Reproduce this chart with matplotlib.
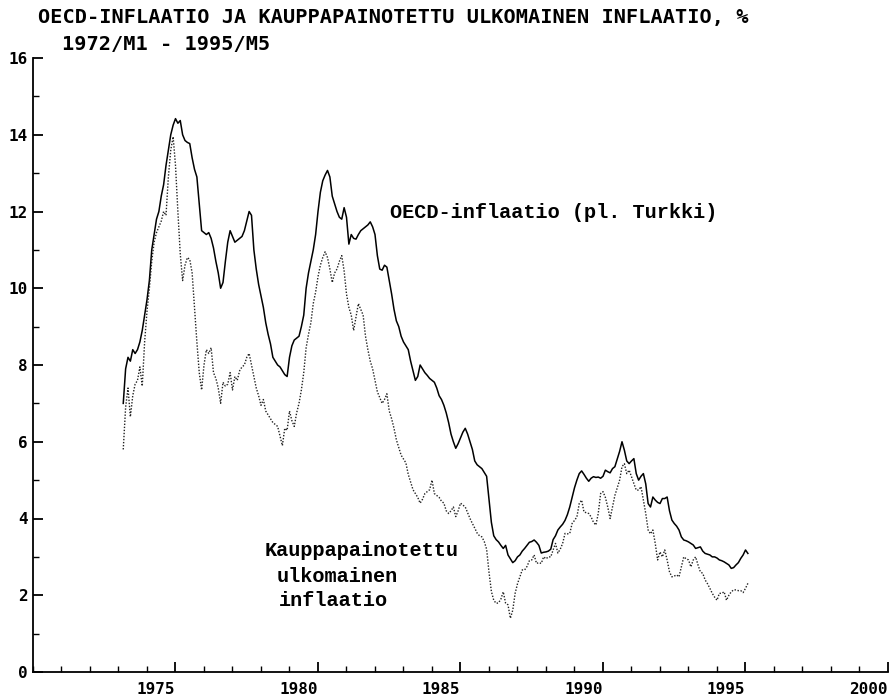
# OECD-inflaatio ja kauppapainotettu ulkomainen inflaatio
import numpy as np
import matplotlib
matplotlib.use('Agg')
import matplotlib.pyplot as plt
from matplotlib.ticker import MultipleLocator

# kuukausisarjat, alkaen 1973/M3
START_YEAR = 1973
START_MONTH = 3

oecd = [
    7.0, 7.9, 8.2, 8.1, 8.4, 8.3, 8.4, 8.6, 8.9, 9.3,                     # 1973
    9.7, 10.2, 11.0, 11.4, 11.8, 12.0, 12.4, 12.7, 13.2, 13.6, 14.0, 14.25,  # 1974
    14.42, 14.3, 14.37, 14.0, 13.85, 13.8, 13.77, 13.4, 13.1, 12.9, 12.2, 11.5,  # 1975
    11.45, 11.4, 11.45, 11.3, 11.05, 10.7, 10.4, 10.0, 10.15, 10.7, 11.2, 11.5,  # 1976
    11.35, 11.2, 11.25, 11.3, 11.35, 11.5, 11.75, 12.0, 11.9, 11.0, 10.5, 10.1,  # 1977
    9.8, 9.5, 9.1, 8.8, 8.55, 8.2, 8.1, 8.0, 7.95, 7.85, 7.75, 7.7,         # 1978
    8.2, 8.5, 8.65, 8.7, 8.75, 9.0, 9.3, 10.0, 10.4, 10.7, 11.0, 11.4,      # 1979
    12.0, 12.5, 12.8, 12.95, 13.07, 12.9, 12.4, 12.2, 12.0, 11.85, 11.8, 12.1,  # 1980
    11.85, 11.15, 11.4, 11.3, 11.28, 11.4, 11.5, 11.55, 11.6, 11.65, 11.73, 11.6,  # 1981
    11.4, 10.85, 10.5, 10.47, 10.6, 10.55, 10.2, 9.85, 9.45, 9.15, 9.0, 8.75,  # 1982
    8.6, 8.5, 8.4, 8.1, 7.85, 7.6, 7.7, 8.0, 7.9, 7.8, 7.73, 7.65,          # 1983
    7.6, 7.55, 7.4, 7.2, 7.1, 6.95, 6.75, 6.5, 6.2, 6.0, 5.83, 5.95,        # 1984
    6.1, 6.25, 6.35, 6.2, 6.0, 5.8, 5.5, 5.4, 5.35, 5.3, 5.2, 5.1,          # 1985
    4.5, 3.9, 3.55, 3.45, 3.39, 3.3, 3.22, 3.3, 3.05, 2.95, 2.85, 2.9,      # 1986
    3.0, 3.05, 3.15, 3.22, 3.3, 3.38, 3.4, 3.44, 3.38, 3.3, 3.1, 3.12,      # 1987
    3.13, 3.15, 3.2, 3.45, 3.55, 3.7, 3.78, 3.85, 3.95, 4.1, 4.3, 4.55,     # 1988
    4.8, 5.0, 5.17, 5.24, 5.15, 5.05, 4.97, 5.05, 5.09, 5.07, 5.08, 5.05,   # 1989
    5.1, 5.26, 5.22, 5.19, 5.3, 5.35, 5.55, 5.75, 6.0, 5.78, 5.5, 5.43,     # 1990
    5.5, 5.56, 5.17, 5.0, 5.1, 5.17, 4.9, 4.39, 4.3, 4.56, 4.48, 4.42,      # 1991
    4.39, 4.52, 4.52, 4.56, 4.2, 3.96, 3.87, 3.8, 3.7, 3.52, 3.44, 3.42,    # 1992
    3.39, 3.35, 3.31, 3.22, 3.24, 3.26, 3.15, 3.09, 3.07, 3.05, 3.0, 3.0,   # 1993
    2.97, 2.92, 2.9, 2.87, 2.83, 2.79, 2.7, 2.72, 2.79, 2.85, 2.96, 3.05,   # 1994
    3.18, 3.09,                                                             # 1995
]

ulkom = [
    5.8, 6.9, 7.4, 6.65, 7.2, 7.5, 7.6, 7.95, 7.45, 8.6,                   # 1973
    9.4, 10.0, 10.7, 11.2, 11.45, 11.6, 11.75, 12.0, 11.9, 12.9, 13.6, 13.95,  # 1974
    13.2, 12.0, 10.9, 10.2, 10.6, 10.8, 10.75, 10.4, 9.5, 8.6, 7.8, 7.35,   # 1975
    8.0, 8.4, 8.3, 8.45, 7.8, 7.65, 7.4, 7.0, 7.55, 7.45, 7.5, 7.8,         # 1976
    7.35, 7.7, 7.6, 7.85, 7.95, 8.0, 8.2, 8.3, 8.0, 7.7, 7.4, 7.2,          # 1977
    6.95, 7.1, 6.8, 6.7, 6.6, 6.5, 6.45, 6.4, 6.15, 5.9, 6.35, 6.3,         # 1978
    6.8, 6.55, 6.4, 6.75, 7.0, 7.35, 7.8, 8.45, 8.8, 9.1, 9.6, 9.9,         # 1979
    10.3, 10.6, 10.8, 10.95, 10.8, 10.5, 10.15, 10.4, 10.5, 10.7, 10.85, 10.45,  # 1980
    9.85, 9.5, 9.3, 8.9, 9.25, 9.6, 9.45, 9.3, 8.75, 8.4, 8.1, 7.9,         # 1981
    7.6, 7.3, 7.15, 7.0, 7.1, 7.25, 6.8, 6.6, 6.35, 6.05, 5.85, 5.65,       # 1982
    5.55, 5.45, 5.15, 4.95, 4.75, 4.65, 4.55, 4.4, 4.5, 4.65, 4.7, 4.75,    # 1983
    5.0, 4.65, 4.6, 4.55, 4.45, 4.4, 4.2, 4.13, 4.2, 4.3, 4.05, 4.2,        # 1984
    4.4, 4.35, 4.3, 4.15, 4.0, 3.87, 3.75, 3.62, 3.55, 3.52, 3.4, 3.2,      # 1985
    2.6, 2.1, 1.87, 1.79, 1.8, 1.9, 2.09, 1.79, 1.75, 1.4, 1.61, 2.05,      # 1986
    2.3, 2.48, 2.66, 2.66, 2.75, 2.9, 2.92, 3.05, 2.83, 2.85, 2.83, 3.0,    # 1987
    2.95, 3.0, 3.0, 3.18, 3.35, 3.1, 3.2, 3.35, 3.61, 3.6, 3.61, 3.87,      # 1988
    3.95, 4.04, 4.39, 4.48, 4.17, 4.15, 4.13, 4.04, 3.9, 3.83, 4.13, 4.65,  # 1989
    4.7, 4.55, 4.3, 4.0, 4.3, 4.6, 4.8, 5.0, 5.35, 5.43, 5.17, 5.26,        # 1990
    5.09, 4.91, 4.74, 4.74, 4.83, 4.48, 4.13, 3.7, 3.6, 3.7, 3.35, 2.92,    # 1991
    3.13, 3.0, 3.18, 2.92, 2.61, 2.48, 2.5, 2.53, 2.48, 2.74, 3.0, 2.95,    # 1992
    2.92, 2.74, 2.92, 3.0, 2.79, 2.61, 2.57, 2.4, 2.3, 2.18, 2.05, 1.95,    # 1993
    1.87, 2.05, 2.05, 2.09, 1.87, 2.0, 2.09, 2.14, 2.14, 2.12, 2.12, 2.07,  # 1994
    2.18, 2.31,                                                             # 1995
]

TITLE = 'OECD-INFLAATIO JA KAUPPAPAINOTETTU ULKOMAINEN INFLAATIO, %'
SUBTITLE = '1972/M1 - 1995/M5'
X_TICKS = [1975, 1980, 1985, 1990, 1995, 2000]
Y_TICKS = [0, 2, 4, 6, 8, 10, 12, 14, 16]

# aika-akseli (vuosi + kuukausi)
t = START_YEAR + (START_MONTH - 1 + np.arange(len(oecd))) / 12

fig = plt.figure(figsize=(8.94, 6.98), dpi=100)
ax = fig.add_axes([33 / 894, 26 / 698, 855 / 894, 614 / 698])

ax.plot(t, oecd, color='black', lw=1.1)
ax.plot(t, ulkom, color='#222222', lw=1.0, linestyle=(0, (1, 1.2)))

ax.set_xlim(1970, 2000)
ax.set_ylim(0, 16)
ax.xaxis.set_minor_locator(MultipleLocator(1))
ax.yaxis.set_minor_locator(MultipleLocator(1))

for s in ['top', 'right']:
    ax.spines[s].set_visible(False)
for s in ['left', 'bottom']:
    ax.spines[s].set_linewidth(1.3)

ax.tick_params(which='major', direction='in', length=7, width=1.3)
ax.tick_params(which='minor', direction='in', length=4, width=1.0)
ax.tick_params(axis='x', pad=7)
ax.tick_params(axis='y', pad=4)

tick_font = {'family': 'DejaVu Sans Mono', 'weight': 'bold', 'size': 11.5}
ax.set_xticks(X_TICKS)
ax.set_xticklabels([str(v) for v in X_TICKS], fontdict=tick_font, ha='right')
ax.set_yticks(Y_TICKS)
ax.set_yticklabels([str(v) for v in Y_TICKS], fontdict=tick_font)

# otsikot
fig.text(38 / 894, 1 - 18 / 698, TITLE, family='DejaVu Sans Mono', weight='bold',
         fontsize=14.6, va='center', ha='left')
fig.text(62 / 894, 1 - 45 / 698, SUBTITLE, family='DejaVu Sans Mono', weight='bold',
         fontsize=14.6, va='center', ha='left')

# sarjojen nimet
lab_font = dict(family='Liberation Mono', weight='bold', fontsize=14.6, va='center', ha='left')
fig.text(390 / 894, 1 - 213 / 698, 'OECD-inflaatio (pl. Turkki)', **lab_font)
fig.text(265 / 894, 1 - 550 / 698, 'Kauppapainotettu', **lab_font)
fig.text(277 / 894, 1 - 576 / 698, 'ulkomainen', **lab_font)
fig.text(279 / 894, 1 - 601 / 698, 'inflaatio', **lab_font)

fig.savefig('out.png', dpi=100)
